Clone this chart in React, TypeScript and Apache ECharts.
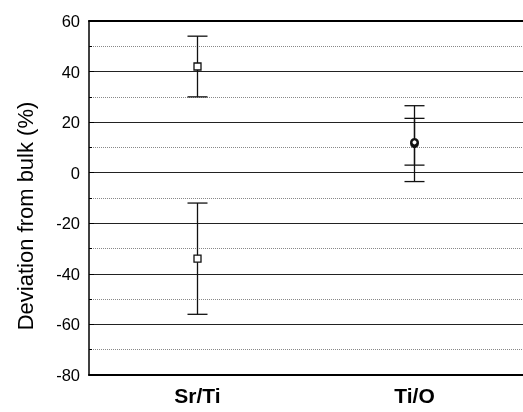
import React, { useEffect, useRef } from "react";
import * as echarts from "echarts";

const categories = ["Sr/Ti", "Ti/O"];
// Sr/Ti measurements (square markers)
const srTiValues = [42, -34];
const srTiLow = [30, -56];
const srTiHigh = [54, -12];
// Ti/O measurements (round markers)
const tiOValues = [11.5, 12];
const tiOLow = [-3.5, 3];
const tiOHigh = [26.5, 21.5];
const yTicks = [-80, -60, -40, -20, 0, 20, 40, 60];
const yTitle = "Deviation from bulk (%)";

export default function App() {
  const ref = useRef<HTMLDivElement>(null);
  useEffect(() => {
    document.body.style.margin = "0";
    const chart = echarts.init(ref.current!, null, { renderer: "svg" });
    const makeRender = (marker: string) => (params: any, api: any) => {
      const mid = api.coord([api.value(0), api.value(1)]);
      const lo = api.coord([api.value(0), api.value(2)]);
      const hi = api.coord([api.value(0), api.value(3)]);
      const cap = 10;
      const ls = { stroke: "#111", lineWidth: 1.3 };
      const children: any[] = [
        { type: "line", shape: { x1: mid[0], y1: hi[1], x2: mid[0], y2: lo[1] }, style: ls },
        { type: "line", shape: { x1: mid[0] - cap, y1: hi[1], x2: mid[0] + cap, y2: hi[1] }, style: ls },
        { type: "line", shape: { x1: mid[0] - cap, y1: lo[1], x2: mid[0] + cap, y2: lo[1] }, style: ls },
      ];
      if (marker === "square") {
        children.push({
          type: "rect",
          shape: { x: mid[0] - 3.5, y: mid[1] - 3.5, width: 7, height: 7 },
          style: { fill: "#fff", stroke: "#111", lineWidth: 1.3 },
        });
      } else {
        children.push({
          type: "circle",
          shape: { cx: mid[0], cy: mid[1], r: 3.2 },
          style: { fill: "#fff", stroke: "#111", lineWidth: 2.4 },
        });
      }
      return { type: "group", children };
    };
    const srData = srTiValues.map((v, i) => [0, v, srTiLow[i], srTiHigh[i]]);
    const tiData = tiOValues.map((v, i) => [1, v, tiOLow[i], tiOHigh[i]]);
    const font = "Liberation Sans, Arial, Helvetica, sans-serif";
    chart.setOption({
      animation: false,
      grid: { left: 89, top: 21, right: -6, bottom: 37 },
      graphic: [
        {
          type: "text",
          x: 25,
          y: 216,
          rotation: Math.PI / 2,
          style: {
            text: yTitle,
            fill: "#000",
            font: `22px ${font}`,
            align: "center",
            verticalAlign: "middle",
          },
        },
      ],
      xAxis: [
        {
          type: "category",
          data: categories,
          axisLine: { show: true, onZero: false, lineStyle: { color: "#000", width: 2 } },
          axisTick: { show: false },
          axisLabel: {
            color: "#000",
            fontFamily: font,
            fontWeight: "bold",
            fontSize: 21,
            margin: 10,
          },
        },
        {
          type: "category",
          position: "top",
          data: categories,
          axisLine: { show: true, onZero: false, lineStyle: { color: "#000", width: 2 } },
          axisTick: { show: false },
          axisLabel: { show: false },
        },
      ],
      yAxis: {
        type: "value",
        min: -80,
        max: 60,
        interval: 20,
        axisLine: { show: true, lineStyle: { color: "#000", width: 1.5 } },
        axisTick: { show: true, inside: true, length: 5, lineStyle: { color: "#000" } },
        minorTick: { show: true, splitNumber: 2, length: 3, lineStyle: { color: "#000" } },
        minorSplitLine: { show: true, lineStyle: { color: "#888", type: "dotted", width: 1 } },
        splitLine: { show: true, lineStyle: { color: "#222", width: 1.2 } },
        axisLabel: {
          color: "#000",
          fontFamily: font,
          fontSize: 16.5,
          margin: 9,
          formatter: (v: number) => (yTicks.includes(v) ? String(v) : ""),
        },
      },
      series: [
        { type: "custom", renderItem: makeRender("square"), data: srData, encode: { x: 0, y: [1, 2, 3] }, z: 10 },
        { type: "custom", renderItem: makeRender("circle"), data: tiData, encode: { x: 0, y: [1, 2, 3] }, z: 10 },
      ],
    });
    return () => chart.dispose();
  }, []);
  return <div ref={ref} style={{ position: "fixed", left: 0, top: 0, width: 523, height: 412 }} />;
}
